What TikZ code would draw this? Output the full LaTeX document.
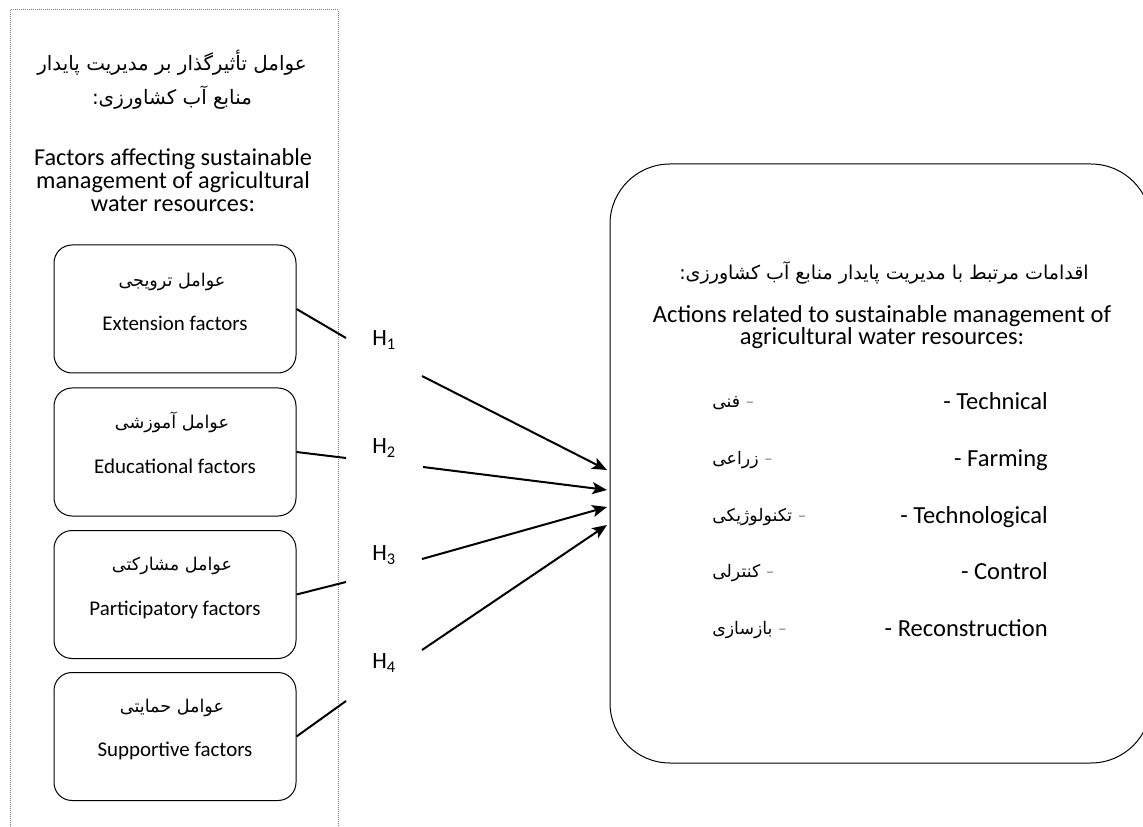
\documentclass[tikz,border=0pt]{standalone}
\usepackage{fontspec}
\setmainfont{Carlito}
\newfontfamily\fa[Script=Arabic]{DejaVu Sans}
\TeXXeTstate=1
\usetikzlibrary{arrows.meta}
\begin{document}
\begin{tikzpicture}[x=0.75pt,y=-0.75pt,
  lhead/.style={font=\fontsize{18.2pt}{17.2pt}\selectfont, inner sep=0pt, align=center},
  rhead/.style={font=\fontsize{18.4pt}{15.3pt}\selectfont, inner sep=0pt, align=center},
  item/.style={font=\fontsize{18.4pt}{20pt}\selectfont, inner sep=0pt, text height=12.8pt, text depth=3.6pt},
  boxen/.style={font=\fontsize{15.7pt}{18pt}\selectfont, inner sep=0pt, text height=11pt, text depth=3.1pt},
  hlabel/.style={font=\fontsize{17.5pt}{18pt}\selectfont, inner sep=0pt, text height=12.2pt, text depth=3.5pt},
  lfahead/.style={font=\fa\fontsize{14.9pt}{25.5pt}\selectfont, inner sep=0pt, align=center},
  rfahead/.style={font=\fa\fontsize{14.3pt}{25pt}\selectfont, inner sep=0pt, text height=11pt, text depth=4pt},
  boxfa/.style={font=\fa\fontsize{13.2pt}{20pt}\selectfont, inner sep=0pt, text height=10pt, text depth=3.5pt},
  itemfa/.style={font=\fa\fontsize{13pt}{20pt}\selectfont, inner sep=0pt, text height=10pt, text depth=3.5pt},
  factor/.style={draw, line width=0.75pt, rounded corners=13.5pt, minimum width=181.5pt, minimum height=96pt, inner sep=0pt},
  actbox/.style={draw, line width=0.75pt, rounded corners=45pt, minimum width=405.75pt, minimum height=449.25pt, inner sep=0pt},
  link/.style={line width=1.5pt},
  hyp/.style={line width=1.5pt, -{Stealth[length=11pt,width=9pt,inset=2.5pt]}},
  frame/.style={draw=gray, line width=0.75pt, dash pattern=on 0.75pt off 0.75pt},
  ]
\clip (0,0) rectangle (1143,827);
\fill[white] (0,0) rectangle (1143,827);
\draw[frame] (10,10) rectangle (338,860);

% left heading
\node[lfahead] (lhfa) at (172,80) {\beginR عوامل تأثیرگذار بر مدیریت پایدار\endR\\\beginR منابع آب کشاورزی:\endR};
\node[lhead] (lhen) at (173,180) {Factors affecting sustainable\\management of agricultural\\water resources:};

% factor boxes
\node[factor] (b1) at (175,309) {};
\node[factor] (b2) at (175,452) {};
\node[factor] (b3) at (175,594.5) {};
\node[factor] (b4) at (175,736.5) {};

\node[boxfa] (b1fa) at (172,282) {\beginR عوامل ترویجی\endR};
\node[boxen] (b1en) at (175,325) {Extension factors};
\node[boxfa] (b2fa) at (172,424) {\beginR عوامل آموزشی\endR};
\node[boxen] (b2en) at (175,468) {Educational factors};
\node[boxfa] (b3fa) at (172,566) {\beginR عوامل مشارکتی\endR};
\node[boxen] (b3en) at (175,610) {Participatory factors};
\node[boxfa] (b4fa) at (172,708) {\beginR عوامل حمایتی\endR};
\node[boxen] (b4en) at (175,751) {Supportive factors};

% hypotheses
\node[hlabel, anchor=west] (h1) at (372,340) {H\textsubscript{1}};
\node[hlabel, anchor=west] (h2) at (372,448) {H\textsubscript{2}};
\node[hlabel, anchor=west] (h3) at (372,555) {H\textsubscript{3}};
\node[hlabel, anchor=west] (h4) at (372,663) {H\textsubscript{4}};

% right box
\node[actbox] (act) at (880.5,463.5) {};
\node[rfahead] (rhfa) at (884,275) {\beginR اقدامات مرتبط با مدیریت پایدار منابع آب کشاورزی:\endR};
\node[rhead] (rhen) at (882,327) {Actions related to sustainable management of\\agricultural water resources:};

\node[item, anchor=east] (i1en) at (1048,403) {- Technical};
\node[item, anchor=east] (i2en) at (1048,460) {- Farming};
\node[item, anchor=east] (i3en) at (1048,517) {- Technological};
\node[item, anchor=east] (i4en) at (1048,573) {- Control};
\node[item, anchor=east] (i5en) at (1048,630) {- Reconstruction};

\node[itemfa, anchor=west] (i1fa) at (712,403) {فنی\ {\rmfamily\color{gray}–}};
\node[itemfa, anchor=west] (i2fa) at (712,460) {زراعی\ {\rmfamily\color{gray}–}};
\node[itemfa, anchor=west] (i3fa) at (712,517) {تکنولوژیکی\ {\rmfamily\color{gray}–}};
\node[itemfa, anchor=west] (i4fa) at (712,573) {کنترلی\ {\rmfamily\color{gray}–}};
\node[itemfa, anchor=west] (i5fa) at (712,630) {بازسازی\ {\rmfamily\color{gray}–}};

% connector points
\coordinate (l1) at (346,338);
\coordinate (l2) at (346,458);
\coordinate (l3) at (346,582);
\coordinate (l4) at (346,701);
\coordinate (s1) at (422,376);
\coordinate (s2) at (423,467);
\coordinate (s3) at (422,559);
\coordinate (s4) at (422,650);
\coordinate (t1) at (607,470);
\coordinate (t2) at (607,490);
\coordinate (t3) at (607,507);
\coordinate (t4) at (607,525);

\draw[link] (b1.east) -- (l1);
\draw[link] (b2.east) -- (l2);
\draw[link] (b3.east) -- (l3);
\draw[link] (b4.east) -- (l4);
\draw[hyp] (s1) -- (t1);
\draw[hyp] (s2) -- (t2);
\draw[hyp] (s3) -- (t3);
\draw[hyp] (s4) -- (t4);
\end{tikzpicture}
\end{document}
